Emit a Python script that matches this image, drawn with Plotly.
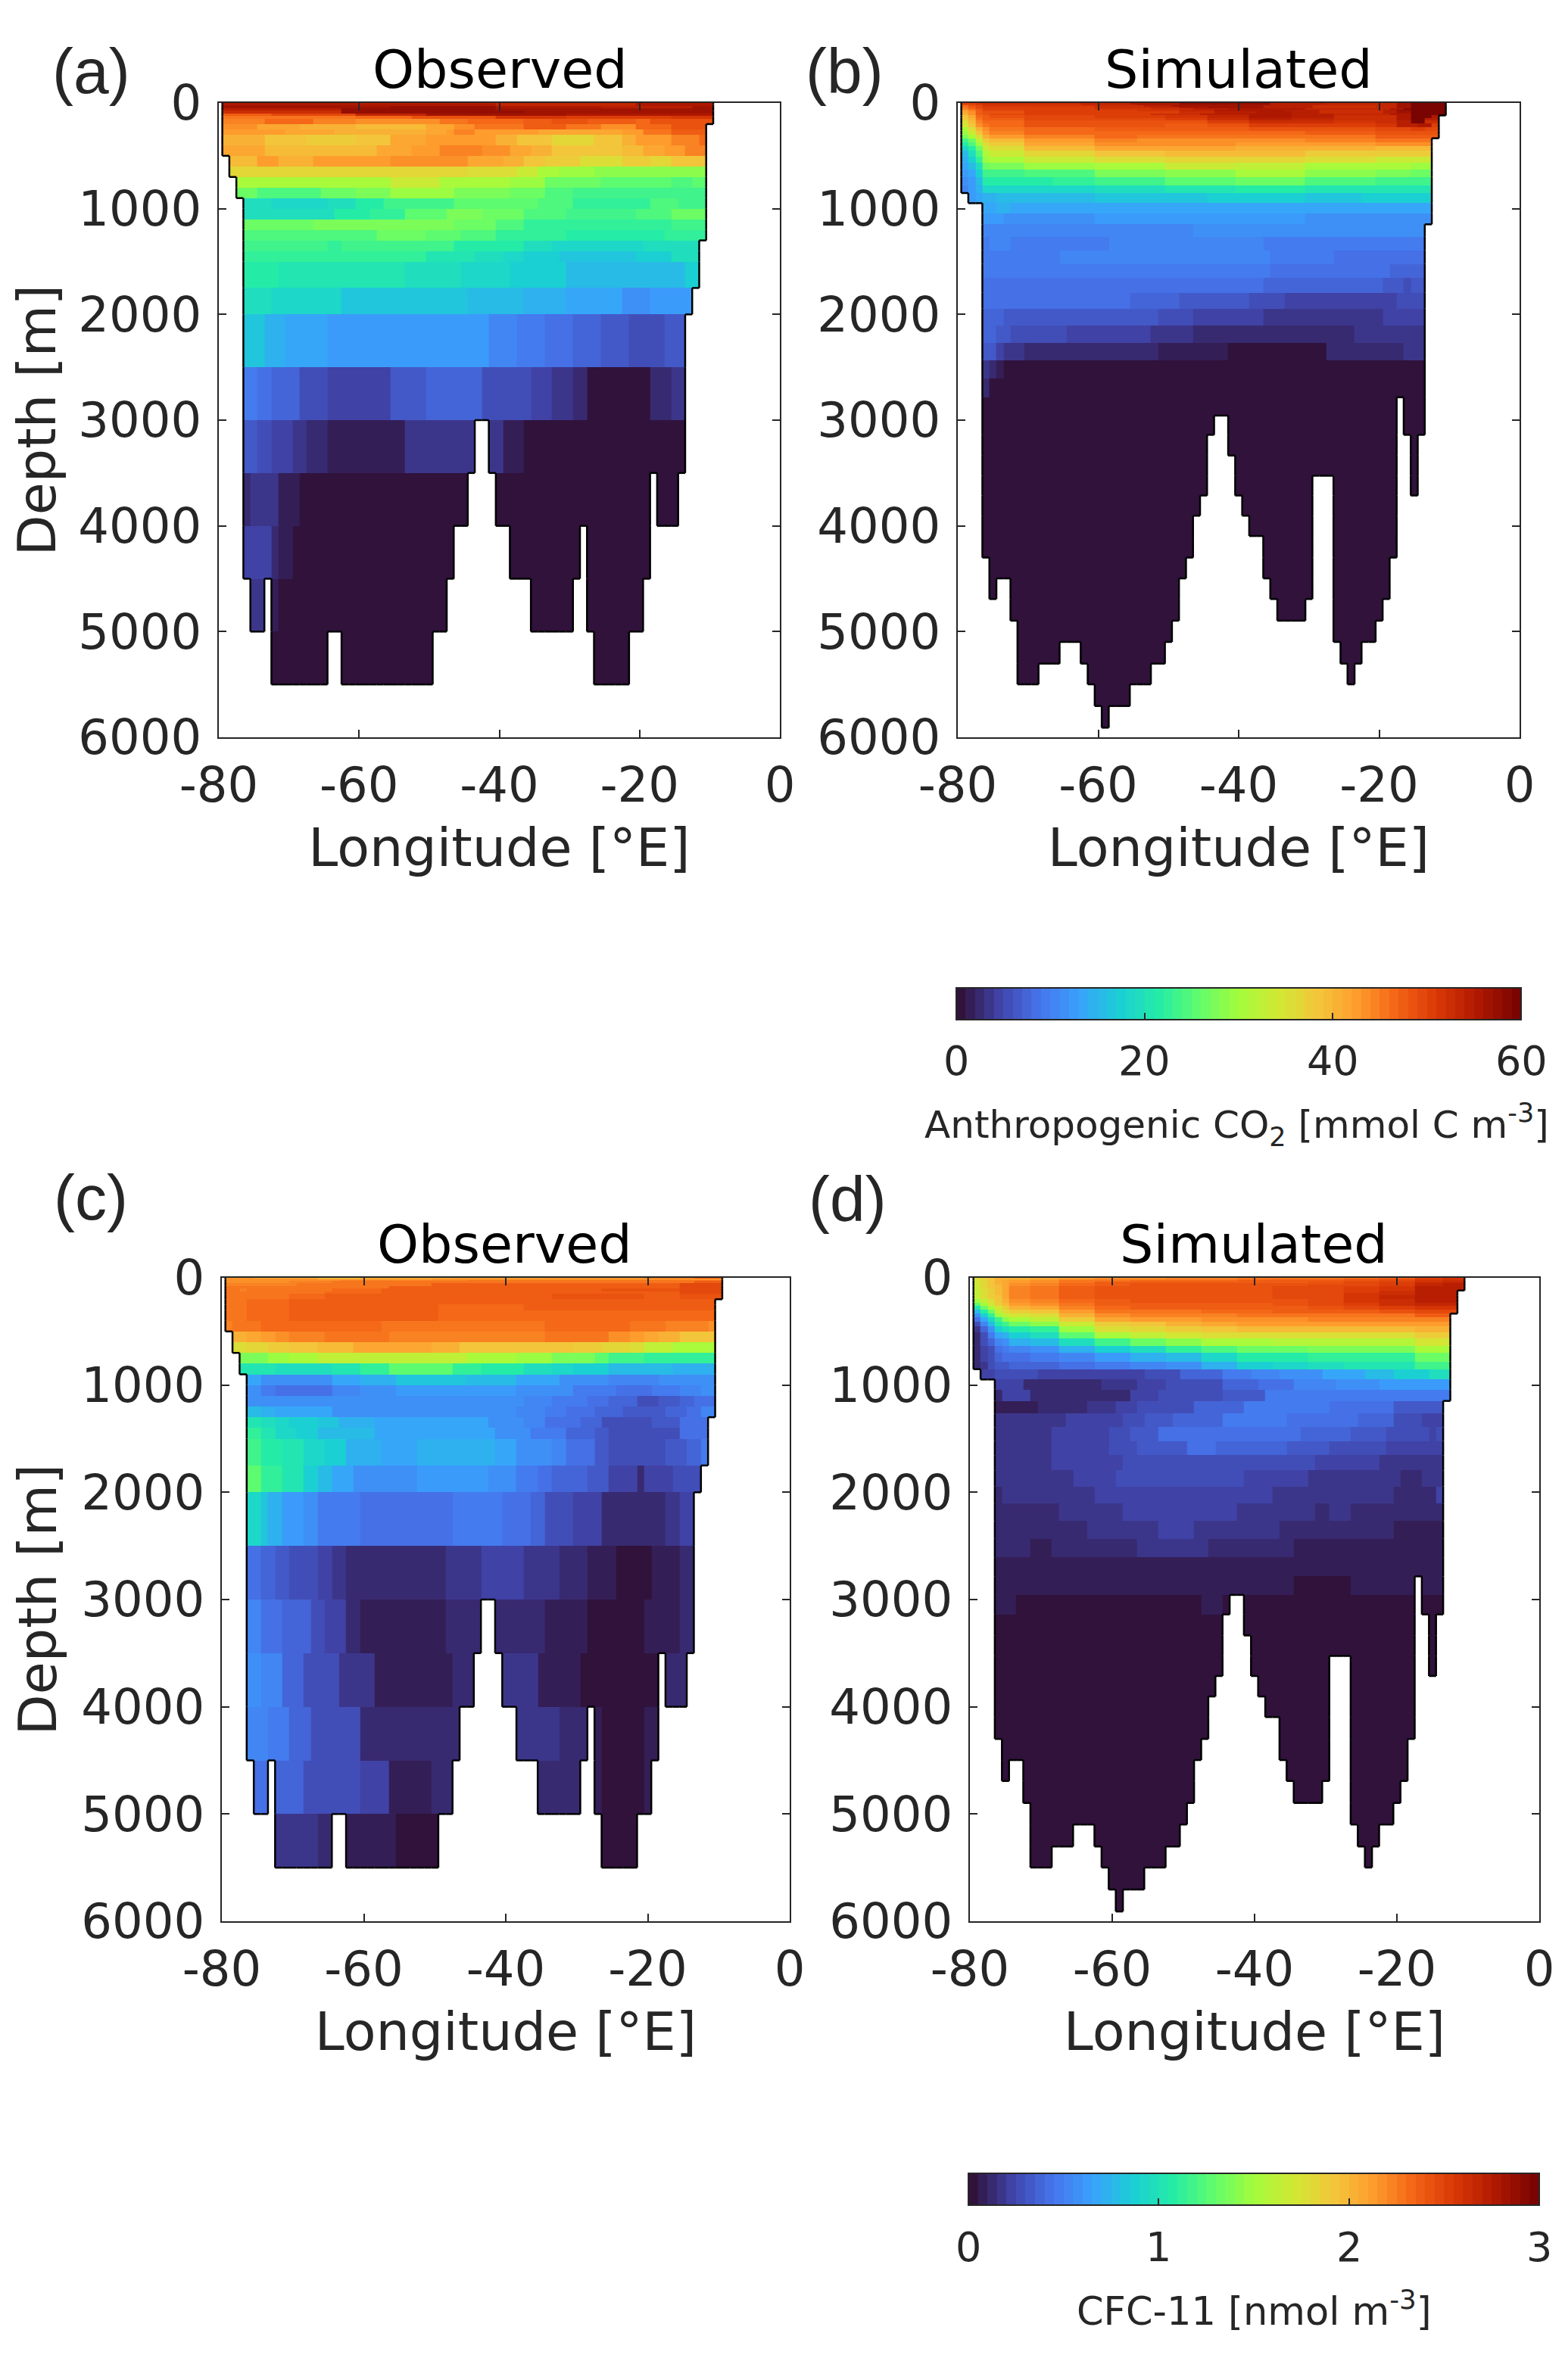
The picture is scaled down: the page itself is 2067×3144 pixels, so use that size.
import plotly.colors as pc
import plotly.graph_objects as go

# depth edges [m] of the observed (gridded) and simulated (model) grids
obs_depths = [0, 10, 20, 30, 50, 75, 100, 125, 150, 200, 250, 300, 400, 500, 600, 700, 800, 900, 1000,
              1100, 1200, 1300, 1400, 1500, 1750, 2000, 2500, 3000, 3500, 4000, 4500, 5000, 5500]
sim_depths = [0, 12, 24, 36, 50, 65, 80, 100, 118, 140, 165, 195, 230, 262, 298, 334, 370, 410, 453, 508,
              565, 632, 699, 780, 852, 948, 1043, 1148, 1266, 1394, 1522, 1654, 1795, 1945, 2105, 2269,
              2433, 2606, 2784, 2957, 3139, 3335, 3526, 3713, 3904, 4096, 4300, 4497, 4692, 4897, 5098,
              5303, 5499, 5704, 5909]

# column centres [deg E]
obs_lons = list(range(-79, -9))
sim_lons = list(range(-79, -10))

# sea floor depth under each column
obs_bottom = [500, 700, 900, 4500, 5000, 5000, 4500, 5500, 5500, 5500, 5500, 5500, 5500, 5500, 5500,
              5000, 5000, 5500, 5500, 5500, 5500, 5500, 5500, 5500, 5500, 5500, 5500, 5500, 5500, 5500,
              5000, 5000, 4500, 4000, 4000, 3500, 3000, 3000, 3500, 4000, 4000, 4500, 4500, 4500,
              5000, 5000, 5000, 5000, 5000, 5000, 4500, 4000, 5000, 5500, 5500, 5500, 5500, 5500,
              5000, 5000, 4500, 3500, 4000, 4000, 4000, 3500, 2000, 1750, 1300, 200]
sim_bottom = [852, 948, 948, 4300, 4692, 4497, 4497, 4897, 5499, 5499, 5499, 5303, 5303, 5303, 5098, 5098,
              5098, 5303, 5499, 5704, 5909, 5704, 5704, 5704, 5499, 5499, 5499, 5303, 5303, 5098, 4897,
              4497, 4300, 3904, 3713, 3139, 2957, 2957, 3335, 3713, 3904, 4096, 4096, 4497, 4692, 4897,
              4897, 4897, 4897, 4692, 3526, 3526, 3526, 5098, 5303, 5499, 5303, 5098, 5098, 4897, 4692,
              4300, 2784, 3139, 3713, 3139, 1148, 300, 118]

# each row below is one depth layer, as (first longitude of the run, value)
co2_obs_rows = [
    [(-80, 55), (-60, 54), (-40, 53), (-20, 55)],
    [(-80, 55), (-60, 55), (-40, 53), (-20, 55)],
    [(-80, 56), (-60, 55), (-40, 53), (-20, 55)],
    [(-80, 56), (-65, 56), (-55, 57), (-40, 55), (-25, 54), (-12, 56)],
    [(-80, 54), (-62, 57), (-40, 56), (-30, 56)],
    [(-80, 52), (-62, 57), (-36, 56)],
    [(-80, 47), (-72, 49), (-60, 53), (-50, 56), (-30, 55)],
    [(-80, 45), (-60, 46), (-52, 48), (-40, 51), (-30, 50), (-15, 51)],
    [(-80, 44), (-73, 46), (-66, 44), (-60, 43), (-48, 45), (-44, 46), (-36, 47), (-32, 48), (-27, 47), (-20, 46), (-18, 48)],
    [(-80, 43), (-74, 41), (-68, 40), (-60, 39), (-50, 41), (-46, 43), (-43, 45), (-36, 47), (-30, 45), (-25, 43), (-20, 46), (-15, 48)],
    [(-80, 42), (-70, 41), (-63, 40), (-50, 41), (-47, 42), (-46, 44), (-43, 42), (-34, 41), (-22, 42), (-19, 45), (-15, 47)],
    [(-80, 40), (-73, 38), (-67, 37), (-60, 38), (-55, 41), (-50, 42), (-40, 40), (-37, 38), (-32, 36), (-26, 38), (-22, 40), (-20, 42), (-15, 44), (-11, 46)],
    [(-80, 41), (-73, 39), (-57, 41), (-52, 42), (-48, 44), (-42, 43), (-38, 41), (-35, 40), (-32, 38), (-22, 39), (-19, 41), (-16, 42), (-13, 44)],
    [(-80, 39), (-74, 42), (-71, 40), (-66, 42), (-55, 43), (-44, 41), (-39, 40), (-36, 38), (-33, 37), (-28, 35), (-22, 37), (-18, 36), (-15, 38)],
    [(-80, 36), (-44, 35), (-37, 33), (-34, 31), (-31, 29), (-26, 28)],
    [(-80, 30), (-55, 33), (-48, 31), (-38, 29), (-33, 26), (-25, 25), (-15, 24), (-12, 25)],
    [(-80, 26), (-74, 24), (-65, 26), (-60, 27), (-55, 29), (-46, 27), (-38, 26), (-33, 24), (-29, 23)],
    [(-80, 19), (-72, 18), (-64, 19), (-60, 21), (-56, 23), (-46, 25), (-34, 24), (-29, 22), (-18, 24), (-14, 23)],
    [(-80, 19), (-63, 21), (-58, 22), (-53, 25), (-47, 27), (-42, 26), (-36, 24), (-30, 23), (-20, 24), (-15, 26)],
    [(-80, 26), (-66, 27), (-46, 26), (-40, 24), (-36, 22), (-15, 23)],
    [(-80, 24), (-57, 26), (-50, 25), (-45, 24), (-40, 22), (-30, 21), (-16, 22)],
    [(-80, 23), (-64, 22), (-62, 23), (-46, 21), (-36, 19), (-32, 18), (-19, 19)],
    [(-80, 22), (-50, 20), (-43, 19), (-39, 18), (-36, 17), (-31, 16), (-20, 17), (-15, 19)],
    [(-80, 21), (-71, 20), (-53, 19), (-45, 18), (-38, 17), (-30, 15), (-18, 15), (-13, 17)],
    [(-80, 19), (-72, 18), (-62, 16.5), (-44, 15.5), (-36, 14), (-30, 13), (-22, 11), (-18, 12.5)],
    [(-80, 16), (-73, 14.5), (-70, 13), (-64, 12), (-41, 10.5), (-37, 9), (-33, 8), (-29, 7), (-25, 6), (-21, 5), (-16, 6), (-13, 7)],
    [(-80, 9), (-74, 8.5), (-72, 7), (-68, 5.5), (-64, 4.5), (-55, 6), (-50, 7), (-42, 5.5), (-38, 5), (-35, 4), (-32, 3), (-29, 2), (-27, 0.5), (-18, 2), (-15, 3)],
    [(-80, 6.5), (-74, 5.5), (-72, 4), (-69, 3), (-67, 2), (-64, 1.5), (-53, 3), (-41, 3), (-39, 1.5), (-36, 0.5)],
    [(-80, 2.5), (-75, 3), (-71, 1.5), (-68, 0.5)],
    [(-80, 4), (-72, 2.5), (-71, 1.5), (-69, 0.5)],
    [(-80, 3), (-72, 1), (-71, 0.5)],
    [(-80, 0.5)],
]

co2_sim_rows = [
    [(-80, 50), (-77, 51), (-76, 52), (-62, 53), (-55, 55), (-48, 57), (-35, 54), (-27, 53), (-17, 56), (-15, 59)],
    [(-80, 48), (-78, 49), (-77, 50), (-76, 51), (-62, 53), (-54, 55), (-48, 56), (-35, 54), (-28, 53), (-17, 56), (-15, 59)],
    [(-80, 46), (-78, 48), (-77, 49), (-76, 51), (-60, 52), (-53, 54), (-49, 56), (-36, 54), (-29, 52), (-20, 53), (-17, 56), (-15, 59)],
    [(-80, 45), (-78, 47), (-77, 49), (-76, 50), (-60, 52), (-52, 53), (-48, 55), (-44, 56), (-36, 54), (-29, 52), (-20, 53), (-17, 56), (-15, 59)],
    [(-80, 44), (-78, 46), (-77, 48), (-76, 50), (-60, 51), (-52, 52), (-46, 54), (-41, 55), (-30, 53), (-18, 55), (-16, 58), (-15, 59)],
    [(-80, 42), (-78, 44), (-77, 47), (-76, 49), (-70, 50), (-54, 51), (-48, 53), (-43, 55), (-33, 54), (-28, 52), (-19, 54), (-17, 57), (-15, 59)],
    [(-80, 41), (-78, 43), (-77, 47), (-76, 48), (-70, 50), (-48, 52), (-43, 54), (-37, 55), (-32, 54), (-28, 52), (-19, 54), (-17, 56), (-15, 59)],
    [(-80, 40), (-78, 43), (-77, 47), (-76, 48), (-75, 49), (-70, 50), (-52, 52), (-45, 54), (-38, 55), (-32, 54), (-26, 53), (-18, 55), (-15, 59)],
    [(-80, 38), (-78, 41), (-77, 46), (-76, 47), (-75, 48), (-70, 49), (-60, 50), (-50, 51), (-44, 53), (-38, 55), (-32, 54), (-26, 52), (-17, 55), (-15, 59), (-12, 55)],
    [(-80, 37), (-78, 40), (-77, 45), (-76, 47), (-75, 47), (-70, 49), (-50, 50), (-44, 52), (-38, 54), (-32, 53), (-26, 52), (-17, 55), (-15, 59), (-13, 54)],
    [(-80, 35), (-78, 39), (-77, 44), (-76, 46), (-70, 48), (-44, 50), (-38, 52), (-26, 51), (-20, 52), (-17, 54), (-15, 59), (-13, 52)],
    [(-80, 34), (-78, 38), (-77, 43), (-76, 45), (-75, 46), (-70, 48), (-50, 47), (-44, 48), (-38, 50), (-20, 51), (-17, 54), (-14, 55), (-12, 50)],
    [(-80, 31), (-78, 35), (-77, 40), (-76, 43), (-75, 45), (-70, 46), (-60, 47), (-38, 48), (-20, 49), (-15, 50), (-13, 49)],
    [(-80, 29), (-78, 33), (-77, 38), (-76, 42), (-75, 44), (-70, 46), (-30, 47), (-20, 48)],
    [(-80, 27), (-78, 30), (-77, 35), (-76, 40), (-75, 42), (-70, 44), (-60, 46), (-54, 45), (-20, 47)],
    [(-80, 23), (-78, 26), (-77, 32), (-76, 37), (-75, 39), (-70, 42), (-60, 44), (-54, 43), (-30, 44), (-20, 45)],
    [(-80, 21), (-78, 24), (-77, 29), (-76, 35), (-75, 37), (-70, 41), (-60, 43), (-40, 42), (-20, 43)],
    [(-80, 18), (-78, 21), (-77, 26), (-76, 33), (-75, 35), (-70, 39), (-60, 41), (-40, 40), (-20, 39)],
    [(-80, 15), (-78, 19), (-77, 24), (-76, 31), (-75, 33), (-70, 36), (-60, 38), (-50, 39), (-30, 37)],
    [(-80, 14), (-78, 17), (-77, 22), (-76, 29), (-75, 31), (-70, 33), (-60, 35), (-50, 36), (-30, 35), (-20, 33)],
    [(-80, 13), (-78, 15), (-77, 19), (-76, 26), (-75, 27), (-70, 29), (-60, 31), (-50, 33), (-40, 32), (-30, 31), (-20, 30), (-15, 29)],
    [(-80, 12), (-78, 13.5), (-77, 17), (-76, 23), (-70, 24), (-60, 27), (-50, 28), (-40, 30), (-30, 28), (-20, 27), (-15, 26)],
    [(-80, 11), (-78, 12.5), (-77, 15), (-76, 21), (-66, 22), (-60, 23), (-50, 25), (-40, 26), (-30, 24), (-20, 23), (-12, 24)],
    [(-80, 10), (-78, 12), (-77, 14), (-76, 18), (-60, 19), (-50, 20), (-40, 21), (-30, 20)],
    [(-80, 12), (-77, 13), (-76, 14), (-74, 15), (-72, 15.5), (-60, 16), (-44, 17), (-30, 16.5), (-22, 17)],
    [(-80, 13), (-75, 13.5), (-74, 14), (-72, 13), (-52, 13.5)],
    [(-80, 12), (-73, 11.5), (-60, 12), (-30, 11.5)],
    [(-80, 10), (-74, 10.5), (-73, 10), (-60, 10.5), (-46, 11.5), (-24, 11), (-13, 10)],
    [(-80, 9.5), (-75, 10), (-72, 9), (-68, 9.5), (-58, 10.5), (-36, 9.5), (-25, 9)],
    [(-80, 9.5), (-65, 10), (-35, 9), (-26, 8)],
    [(-80, 9), (-60, 9.5), (-35, 8.5), (-29, 8), (-18, 7)],
    [(-80, 8.5), (-42, 8), (-36, 7.5), (-29, 7), (-19, 6), (-16, 5.5), (-15, 6)],
    [(-80, 8.5), (-55, 7.5), (-48, 6.5), (-43, 6), (-38, 5.5), (-33, 4.5), (-17, 5), (-14, 5.5)],
    [(-80, 7.5), (-73, 6.5), (-63, 6), (-51, 5), (-46, 4), (-36, 3), (-19, 4), (-14, 4.5)],
    [(-80, 7.5), (-74, 6), (-72, 5.5), (-64, 4.5), (-52, 3.5), (-46, 2.5), (-41, 2), (-23, 3), (-19, 3.5)],
    [(-80, 6), (-74, 4.5), (-73, 3.5), (-70, 2.5), (-51, 1.5), (-41, 0.5), (-27, 2), (-16, 3)],
    [(-80, 3.5), (-75, 2.5), (-74, 1.5), (-73, 0.5)],
    [(-80, 2), (-75, 0.5)],
]

cfc_obs_rows = [
    [(-80, 2.1), (-75, 2.0), (-66, 1.85), (-60, 2.0), (-47, 2.05), (-34, 2.1), (-20, 2.2), (-13, 2.35)],
    [(-80, 2.15), (-66, 2.1), (-50, 2.15)],
    [(-80, 2.15), (-63, 2.2), (-45, 2.25)],
    [(-80, 2.15), (-70, 2.2), (-64, 2.25), (-55, 2.3), (-13, 2.4)],
    [(-80, 2.2), (-69, 2.25), (-60, 2.3), (-50, 2.35), (-38, 2.4), (-20, 2.35), (-15, 2.45)],
    [(-80, 2.25), (-66, 2.3), (-56, 2.35), (-38, 2.4), (-20, 2.38), (-15, 2.45)],
    [(-80, 2.25), (-77, 2.2), (-76, 2.28), (-70, 2.3), (-64, 2.33), (-57, 2.36), (-36, 2.4), (-26, 2.42), (-15, 2.45)],
    [(-80, 2.27), (-65, 2.33), (-57, 2.37), (-36, 2.4), (-21, 2.37), (-15, 2.45)],
    [(-80, 2.28), (-70, 2.33), (-65, 2.36), (-37, 2.38), (-33, 2.42), (-20, 2.4), (-15, 2.43)],
    [(-80, 2.3), (-76, 2.34), (-70, 2.36), (-46, 2.35), (-37, 2.36)],
    [(-80, 2.3), (-76, 2.34), (-70, 2.36), (-49, 2.34), (-37, 2.36)],
    [(-80, 2.3), (-76, 2.32), (-70, 2.37), (-49, 2.34)],
    [(-80, 2.2), (-78, 2.25), (-76, 2.28), (-74, 2.31), (-71, 2.34), (-57, 2.3), (-50, 2.27), (-34, 2.31), (-22, 2.27), (-17, 2.22), (-11, 2.15)],
    [(-80, 2.0), (-76, 2.05), (-74, 2.1), (-72, 2.15), (-70, 2.2), (-65, 2.3), (-56, 2.22), (-50, 2.2), (-34, 2.28), (-25, 2.15), (-22, 2.1), (-20, 2.05), (-18, 2.0), (-15, 1.95), (-13, 1.9)],
    [(-80, 1.75), (-76, 1.8), (-73, 1.85), (-70, 1.9), (-66, 1.97), (-61, 2.05), (-50, 2.0), (-46, 1.95), (-30, 1.85), (-26, 1.8), (-22, 1.75), (-20, 1.65), (-16, 1.55)],
    [(-80, 1.35), (-73, 1.45), (-70, 1.5), (-66, 1.6), (-60, 1.65), (-47, 1.6), (-45, 1.55), (-38, 1.45), (-33, 1.35), (-27, 1.25), (-25, 1.2), (-20, 1.1)],
    [(-80, 1.0), (-72, 0.95), (-64, 1.02), (-60, 1.15), (-56, 1.25), (-47, 1.1), (-43, 1.05), (-37, 0.97), (-33, 0.9), (-30, 0.85), (-25, 0.75), (-16, 0.7)],
    [(-80, 0.65), (-74, 0.55), (-64, 0.65), (-60, 0.72), (-55, 0.8), (-45, 0.75), (-38, 0.65), (-32, 0.58), (-25, 0.5), (-18, 0.55), (-13, 0.58)],
    [(-80, 0.55), (-74, 0.45), (-72, 0.4), (-64, 0.5), (-60, 0.57), (-55, 0.63), (-38, 0.55), (-30, 0.48), (-24, 0.4), (-19, 0.45), (-15, 0.5), (-12, 0.55)],
    [(-80, 0.6), (-73, 0.55), (-37, 0.53), (-33, 0.47), (-28, 0.4), (-25, 0.35), (-21, 0.3), (-18, 0.33), (-15, 0.36), (-13, 0.42)],
    [(-80, 0.75), (-74, 0.7), (-72, 0.67), (-70, 0.65), (-64, 0.6), (-38, 0.53), (-34, 0.47), (-31, 0.4), (-27, 0.37), (-23, 0.32), (-17, 0.38), (-14, 0.42), (-12, 0.5)],
    [(-80, 1.02), (-74, 0.95), (-72, 0.9), (-70, 0.85), (-66, 0.8), (-63, 0.72), (-58, 0.68), (-42, 0.6), (-37, 0.5), (-34, 0.42), (-29, 0.36), (-26, 0.28), (-19, 0.34), (-15, 0.4)],
    [(-80, 1.1), (-74, 1.0), (-72, 0.92), (-69, 0.85), (-66, 0.75), (-58, 0.66), (-41, 0.55), (-36, 0.47), (-31, 0.38), (-27, 0.33), (-25, 0.25), (-19, 0.3), (-15, 0.4)],
    [(-80, 1.2), (-74, 1.08), (-71, 1.0), (-68, 0.9), (-65, 0.85), (-62, 0.72), (-57, 0.67), (-52, 0.72), (-41, 0.65), (-38, 0.6), (-35, 0.55), (-33, 0.5), (-31, 0.42), (-27, 0.33), (-25, 0.26), (-17, 0.32), (-14, 0.37), (-12, 0.45)],
    [(-80, 1.25), (-74, 1.1), (-71, 1.0), (-68, 0.88), (-66, 0.78), (-64, 0.68), (-61, 0.6), (-57, 0.55), (-52, 0.62), (-42, 0.55), (-38, 0.47), (-35, 0.43), (-33, 0.37), (-28, 0.33), (-25, 0.24), (-21, 0.12), (-20, 0.22), (-16, 0.3)],
    [(-80, 0.93), (-74, 0.8), (-73, 0.72), (-71, 0.63), (-68, 0.55), (-66, 0.48), (-64, 0.45), (-60, 0.42), (-56, 0.4), (-55, 0.42), (-47, 0.46), (-40, 0.4), (-36, 0.36), (-34, 0.3), (-32, 0.27), (-30, 0.23), (-28, 0.2), (-26, 0.15), (-22, 0.1), (-20, 0.14), (-17, 0.18), (-15, 0.2)],
    [(-80, 0.42), (-74, 0.38), (-72, 0.34), (-70, 0.3), (-68, 0.26), (-66, 0.22), (-64, 0.18), (-62, 0.13), (-48, 0.18), (-43, 0.22), (-37, 0.17), (-32, 0.13), (-28, 0.07), (-24, 0.0), (-19, 0.06), (-15, 0.1)],
    [(-80, 0.5), (-74, 0.42), (-71, 0.35), (-67, 0.25), (-65, 0.2), (-62, 0.14), (-60, 0.05), (-48, 0.13), (-41, 0.14), (-34, 0.05), (-28, 0.0), (-20, 0.05), (-15, 0.12)],
    [(-80, 0.55), (-74, 0.5), (-71, 0.38), (-68, 0.3), (-65, 0.25), (-63, 0.18), (-58, 0.06), (-47, 0.15), (-40, 0.17), (-35, 0.06), (-29, 0.0), (-20, 0.03), (-17, 0.13)],
    [(-80, 0.52), (-73, 0.45), (-70, 0.38), (-67, 0.3), (-65, 0.25), (-60, 0.14), (-38, 0.19), (-32, 0.1), (-28, 0.07), (-26, 0.0), (-20, 0.07)],
    [(-80, 0.42), (-72, 0.38), (-68, 0.3), (-64, 0.25), (-60, 0.2), (-56, 0.08), (-50, 0.13), (-28, 0.07), (-26, 0.0), (-20, 0.07)],
    [(-80, 0.17), (-66, 0.13), (-62, 0.05), (-55, 0.0)],
]

# upper layers of the simulated CFC-11 section, one value per run start
cfc_sim_starts = [-80, -78, -77, -76, -75, -74, -71, -67, -62, -57, -52, -47, -42, -37, -32, -27, -22, -17, -13]
cfc_sim_upper = [
    [1.75, 1.85, 1.95, 2.0, 2.0, 2.02, 2.05, 2.1, 2.15, 2.18, 2.2, 2.22, 2.25, 2.27, 2.3, 2.33, 2.4, 2.5, 2.55],
    [1.73, 1.84, 1.94, 2.0, 2.02, 2.08, 2.1, 2.2, 2.25, 2.28, 2.3, 2.3, 2.32, 2.35, 2.37, 2.42, 2.45, 2.55, 2.6],
    [1.72, 1.83, 1.93, 2.0, 2.05, 2.12, 2.15, 2.25, 2.3, 2.32, 2.33, 2.34, 2.35, 2.38, 2.4, 2.44, 2.48, 2.58, 2.62],
    [1.71, 1.82, 1.92, 2.0, 2.05, 2.14, 2.18, 2.3, 2.36, 2.38, 2.38, 2.38, 2.38, 2.4, 2.42, 2.45, 2.5, 2.6, 2.65],
    [1.7, 1.82, 1.92, 2.0, 2.05, 2.16, 2.2, 2.33, 2.38, 2.41, 2.42, 2.42, 2.42, 2.42, 2.44, 2.47, 2.52, 2.65, 2.7],
    [1.69, 1.81, 1.91, 1.99, 2.05, 2.18, 2.22, 2.33, 2.4, 2.42, 2.42, 2.42, 2.42, 2.44, 2.46, 2.48, 2.54, 2.68, 2.72],
    [1.68, 1.8, 1.9, 1.98, 2.05, 2.2, 2.25, 2.35, 2.42, 2.42, 2.42, 2.42, 2.42, 2.45, 2.47, 2.5, 2.56, 2.7, 2.72],
    [1.66, 1.79, 1.89, 1.97, 2.05, 2.2, 2.25, 2.36, 2.42, 2.42, 2.42, 2.42, 2.42, 2.45, 2.47, 2.52, 2.58, 2.72, 2.72],
    [1.65, 1.78, 1.88, 1.97, 2.05, 2.2, 2.25, 2.36, 2.42, 2.42, 2.42, 2.42, 2.42, 2.45, 2.48, 2.53, 2.6, 2.72, 2.72],
    [1.62, 1.76, 1.86, 1.96, 2.05, 2.2, 2.25, 2.36, 2.42, 2.42, 2.42, 2.42, 2.42, 2.45, 2.49, 2.55, 2.63, 2.72, 2.72],
    [1.6, 1.75, 1.85, 1.95, 2.05, 2.2, 2.25, 2.36, 2.42, 2.42, 2.42, 2.42, 2.42, 2.45, 2.49, 2.56, 2.65, 2.72, 2.72],
    [1.45, 1.65, 1.78, 1.9, 2.0, 2.15, 2.2, 2.32, 2.4, 2.41, 2.42, 2.42, 2.42, 2.44, 2.48, 2.55, 2.63, 2.7, 2.7],
    [1.25, 1.5, 1.7, 1.85, 1.97, 2.1, 2.15, 2.28, 2.37, 2.4, 2.4, 2.4, 2.4, 2.42, 2.45, 2.52, 2.6, 2.68, 2.68],
    [1.0, 1.3, 1.55, 1.72, 1.88, 2.0, 2.05, 2.2, 2.32, 2.36, 2.37, 2.37, 2.38, 2.4, 2.42, 2.46, 2.52, 2.58, 2.58],
    [0.75, 1.05, 1.33, 1.6, 1.75, 1.85, 1.9, 2.1, 2.25, 2.28, 2.3, 2.32, 2.33, 2.36, 2.37, 2.4, 2.42, 2.48, 2.48],
    [0.55, 0.85, 1.15, 1.45, 1.6, 1.72, 1.78, 2.0, 2.17, 2.2, 2.22, 2.24, 2.25, 2.28, 2.3, 2.3, 2.3, 2.35, 2.35],
    [0.4, 0.65, 0.9, 1.2, 1.4, 1.55, 1.63, 1.88, 2.07, 2.1, 2.13, 2.15, 2.17, 2.18, 2.2, 2.2, 2.2, 2.22, 2.22],
    [0.28, 0.5, 0.75, 1.05, 1.2, 1.32, 1.4, 1.67, 1.87, 1.95, 2.0, 2.05, 2.1, 2.1, 2.1, 2.11, 2.12, 2.14, 2.14],
    [0.18, 0.38, 0.58, 0.85, 0.95, 1.08, 1.15, 1.48, 1.75, 1.8, 1.85, 1.92, 1.97, 1.98, 1.98, 1.98, 1.98, 2.0, 2.0],
    [0.14, 0.3, 0.45, 0.65, 0.72, 0.88, 0.95, 1.25, 1.55, 1.63, 1.7, 1.75, 1.78, 1.78, 1.78, 1.78, 1.77, 1.87, 1.87],
    [0.13, 0.25, 0.36, 0.5, 0.6, 0.7, 0.75, 0.98, 1.2, 1.32, 1.42, 1.5, 1.55, 1.56, 1.57, 1.57, 1.57, 1.7, 1.7],
    [0.12, 0.22, 0.3, 0.4, 0.45, 0.52, 0.55, 0.7, 0.85, 0.98, 1.1, 1.22, 1.3, 1.33, 1.35, 1.36, 1.37, 1.5, 1.5],
    [0.12, 0.2, 0.27, 0.36, 0.4, 0.44, 0.45, 0.53, 0.62, 0.7, 0.78, 0.92, 1.05, 1.08, 1.12, 1.13, 1.15, 1.33, 1.33],
    [0.12, 0.18, 0.25, 0.32, 0.34, 0.37, 0.38, 0.42, 0.45, 0.5, 0.58, 0.7, 0.85, 0.9, 0.97, 1.0, 1.03, 1.18, 1.18],
]
cfc_sim_lower = [
    [(-80, 0.22), (-77, 0.24), (-76, 0.25), (-70, 0.22), (-62, 0.24), (-55, 0.3), (-50, 0.38), (-44, 0.45), (-40, 0.5), (-36, 0.55), (-30, 0.65), (-24, 0.75), (-20, 0.88), (-15, 0.95)],
    [(-80, 0.2), (-72, 0.15), (-61, 0.18), (-56, 0.2), (-52, 0.27), (-48, 0.3), (-44, 0.38), (-39, 0.42), (-34, 0.53), (-28, 0.6), (-22, 0.63)],
    [(-80, 0.12), (-75, 0.2), (-71, 0.1), (-68, 0.15), (-61, 0.14), (-57, 0.2), (-53, 0.25), (-49, 0.27), (-44, 0.33), (-38, 0.45)],
    [(-80, 0.08), (-70, 0.13), (-63, 0.17), (-59, 0.2), (-56, 0.25), (-52, 0.3), (-48, 0.38), (-41, 0.45), (-29, 0.4), (-20, 0.32)],
    [(-80, 0.17), (-66, 0.2), (-62, 0.22), (-58, 0.26), (-55, 0.33), (-51, 0.38), (-44, 0.47), (-35, 0.4), (-25, 0.36), (-20, 0.3), (-16, 0.22)],
    [(-80, 0.17), (-68, 0.2), (-63, 0.23), (-60, 0.28), (-57, 0.34), (-53, 0.42), (-33, 0.35), (-26, 0.32), (-21, 0.27), (-15, 0.22), (-14, 0.28)],
    [(-80, 0.17), (-68, 0.2), (-64, 0.23), (-60, 0.27), (-56, 0.33), (-49, 0.42), (-45, 0.36), (-35, 0.32), (-29, 0.28), (-21, 0.24)],
    [(-80, 0.17), (-68, 0.2), (-62, 0.22), (-58, 0.3), (-38, 0.25), (-31, 0.22), (-22, 0.18)],
    [(-80, 0.17), (-65, 0.2), (-59, 0.27), (-41, 0.22), (-32, 0.18), (-19, 0.14), (-16, 0.18)],
    [(-80, 0.13), (-75, 0.16), (-62, 0.21), (-37, 0.17), (-20, 0.13), (-14, 0.2)],
    [(-80, 0.13), (-67, 0.17), (-58, 0.21), (-42, 0.17), (-31, 0.13), (-29, 0.17), (-26, 0.13)],
    [(-80, 0.13), (-63, 0.17), (-53, 0.22), (-48, 0.17), (-36, 0.12), (-20, 0.09)],
    [(-80, 0.12), (-71, 0.08), (-68, 0.14), (-56, 0.19), (-46, 0.12), (-34, 0.09)],
    [(-80, 0.09), (-35, 0.05)],
    [(-80, 0.09), (-74, 0.06), (-42, 0.08), (-41, 0.06), (-34, 0.0), (-26, 0.05)],
    [(-80, 0.09), (-73, 0.0), (-47, 0.06), (-44, 0.0)],
]
cfc_sim_rows = [list(zip(cfc_sim_starts, vals)) for vals in cfc_sim_upper] + cfc_sim_lower

lon_ticks = [-80, -60, -40, -20, 0]
lon_ticktext = ["-80", "-60", "-40", "-20", "0"]
depth_ticks = [0, 1000, 2000, 3000, 4000, 5000, 6000]
co2_ticks = [0, 20, 40, 60]
cfc_ticks = [0, 1, 2, 3]

FIG_W, FIG_H = 2067, 3144
OFFSET_X, OFFSET_Y = 8, 6  # the page's body margin moves the figure, measured against the target
TICK = "#262626"
FONT = "DejaVu Sans"


def px(x):
    return (x - OFFSET_X) / FIG_W


def py(y):
    return 1 - (y - OFFSET_Y) / FIG_H


def expand(rows, lons, depths, bottom, deep_value=0):
    """Turn the run lists into a grid, blank below the sea floor."""
    z = []
    for i in range(len(depths) - 1):
        row = rows[i] if i < len(rows) else [(-80, deep_value)]
        line = []
        for lon, floor in zip(lons, bottom):
            value = row[0][1]
            for start, v in row:
                if lon >= start:
                    value = v
            line.append(value if depths[i] < floor else None)
        z.append(line)
    return z


def outline(z, lons, depths):
    """Step line around the wet cells."""
    xs, ys = [], []
    nrow, ncol = len(z), len(lons)

    def wet(r, c):
        return 0 <= r < nrow and 0 <= c < ncol and z[r][c] is not None

    for r in range(nrow):
        for c in range(ncol):
            if not wet(r, c):
                continue
            w, e = lons[c] - 0.5, lons[c] + 0.5
            t, b = depths[r], depths[r + 1]
            if not wet(r, c - 1):
                xs += [w, w, None]
                ys += [t, b, None]
            if not wet(r, c + 1):
                xs += [e, e, None]
                ys += [t, b, None]
            if not wet(r + 1, c):
                xs += [w, e, None]
                ys += [b, b, None]
    return xs, ys


# turbo split into 60 flat steps like the colour bars of the figure
steps = pc.sample_colorscale("Turbo", [i / 59 for i in range(60)])
stepped = []
for i, col in enumerate(steps):
    stepped.append([i / 60, col])
    stepped.append([(i + 1) / 60, col])

panels = [
    ("", "", co2_obs_rows, obs_lons, obs_depths, obs_bottom, "coloraxis", (289, 1030, 134, 972)),
    ("2", "2", co2_sim_rows, sim_lons, sim_depths, sim_bottom, "coloraxis", (1265, 2007, 134, 972)),
    ("3", "3", cfc_obs_rows, obs_lons, obs_depths, obs_bottom, "coloraxis2", (293, 1043, 1686, 2536)),
    ("4", "4", cfc_sim_rows, sim_lons, sim_depths, sim_bottom, "coloraxis2", (1281, 2033, 1686, 2536)),
]

fig = go.Figure()
layout_axes = {}
for n, (xa, ya, rows, lons, depths, bottom, cax, box) in enumerate(panels):
    z = expand(rows, lons, depths, bottom)
    edges = [lons[0] - 0.5 + i for i in range(len(lons) + 1)]
    fig.add_trace(go.Heatmap(x=edges, y=depths, z=z, coloraxis=cax, xaxis="x" + xa, yaxis="y" + ya,
                             hoverongaps=False))
    ox, oy = outline(z, lons, depths)
    fig.add_trace(go.Scatter(x=ox, y=oy, mode="lines", line=dict(color="black", width=2.5),
                             xaxis="x" + xa, yaxis="y" + ya, showlegend=False, hoverinfo="skip"))
    left, right, top, low = box
    common = dict(showgrid=False, zeroline=False, showline=True, linecolor=TICK, linewidth=2,
                  mirror="ticks", ticks="inside", ticklen=10, tickwidth=2, tickcolor=TICK,
                  tickfont=dict(family=FONT, size=64, color=TICK))
    layout_axes["xaxis" + xa] = dict(common, domain=[px(left), px(right)], range=[-80, 0], anchor="y" + ya,
                                     tickvals=lon_ticks, ticktext=lon_ticktext, ticklabelstandoff=6,
                                     title=dict(text="Longitude [°E]", standoff=22,
                                                font=dict(family=FONT, size=70, color=TICK)))
    layout_axes["yaxis" + ya] = dict(common, domain=[py(low), py(top)], range=[6000, 0], anchor="x" + xa,
                                     tickvals=depth_ticks, ticklabelstandoff=8)
    if n in (0, 2):
        layout_axes["yaxis" + ya]["title"] = dict(text="Depth [m]", standoff=10,
                                                  font=dict(family=FONT, size=70, color=TICK))


def colour_axis(vmax, ticks, left, right, top, low):
    return dict(cmin=0, cmax=vmax, colorscale=stepped,
                colorbar=dict(orientation="h", lenmode="pixels", len=right - left, thicknessmode="pixels",
                              thickness=low - top, x=px((left + right) / 2), xanchor="center",
                              y=py(low + 12), yanchor="bottom", xpad=0, ypad=0, outlinecolor=TICK, outlinewidth=2,
                              ticks="inside", ticklen=10, tickwidth=2, tickcolor=TICK, tickvals=ticks,
                              showticklabels=False))


notes = [
    ("Observed", 660, 90, 70, FONT, "black"),
    ("Simulated", 1636, 90, 70, FONT, "black"),
    ("Observed", 666, 1642, 70, FONT, "black"),
    ("Simulated", 1656, 1642, 70, FONT, "black"),
    ("(a)", 120, 92, 84, "Liberation Sans", TICK),
    ("(b)", 1115, 92, 84, "Liberation Sans", TICK),
    ("(c)", 120, 1580, 84, "Liberation Sans", TICK),
    ("(d)", 1119, 1582, 84, "Liberation Sans", TICK),
    ("Anthropogenic CO<sub>2</sub> [mmol C m<sup>-3</sup>]", 1633, 1484, 50, FONT, TICK),
    ("CFC-11 [nmol m<sup>-3</sup>]", 1656, 3048, 51, FONT, TICK),
]
# colour bar tick labels, placed along each bar by value
for ticks, vmax, left, right, y in [(co2_ticks, 60, 1263, 2009, 1400), (cfc_ticks, 3, 1279, 2033, 2966)]:
    for t in ticks:
        notes.append((str(t), left + (right - left) * t / vmax, y, 54, FONT, TICK))

fig.update_layout(
    width=FIG_W, height=FIG_H, autosize=False, margin=dict(l=0, r=0, t=0, b=0, autoexpand=False),
    paper_bgcolor="white", plot_bgcolor="white", showlegend=False,
    coloraxis=colour_axis(60, co2_ticks, 1263, 2009, 1303, 1345),
    coloraxis2=colour_axis(3, cfc_ticks, 1279, 2033, 2869, 2911),
    annotations=[dict(text=t, x=px(x), y=py(y), xref="paper", yref="paper", xanchor="center", yanchor="middle",
                      showarrow=False, font=dict(family=f, size=s, color=c)) for t, x, y, s, f, c in notes],
    **layout_axes,
)

fig.write_html("out.html")
